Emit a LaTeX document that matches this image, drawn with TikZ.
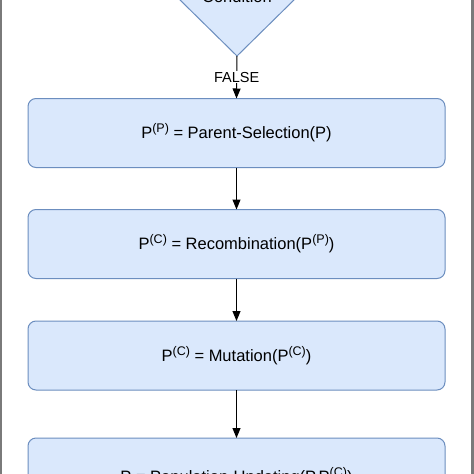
\documentclass[tikz,border=0pt]{standalone}
\usepackage{fontspec}
\setmainfont{Liberation Sans}
\usetikzlibrary{shapes.geometric,arrows.meta}
\definecolor{boxfill}{HTML}{DAE8FC}
\definecolor{boxline}{HTML}{6C8EBF}
\definecolor{frame}{HTML}{7A7A7A}
\newcommand{\sups}[1]{\raisebox{6pt}{\fontsize{12.5}{12.5}\selectfont #1}}
\tikzset{
  procbox/.style={draw=boxline, fill=boxfill, line width=1pt, rounded corners=8pt,
    minimum width=417pt, minimum height=69pt, inner sep=0pt, outer sep=0pt,
    font=\fontsize{16.5}{20}\selectfont},
  decision/.style={diamond, draw=boxline, fill=boxfill, line width=1pt,
    minimum width=120pt, minimum height=118pt, inner sep=0pt, outer sep=0pt,
    font=\fontsize{16.5}{20}\selectfont},
  flow/.style={draw=black, line width=1pt, -{Triangle[length=10pt,width=8pt]}},
  edgelabel/.style={fill=white, inner sep=1pt, font=\fontsize{14.5}{16}\selectfont}
}
\begin{document}
\begin{tikzpicture}[x=1pt,y=-1pt]
\useasboundingbox (0,0) rectangle (474,474);
\clip (0,0) rectangle (474,474);
\fill[white] (0,0) rectangle (474,474);
\node[decision] (cond) at (237,-3) {Condition};
\node[procbox] (b1) at (236.5,133) {P\sups{(P)} = Parent-Selection(P)};
\node[procbox] (b2) at (236.5,244) {P\sups{(C)} = Recombination(P\sups{(P)})};
\node[procbox] (b3) at (236.5,355.5) {P\sups{(C)} = Mutation(P\sups{(C)})};
\node[procbox, minimum height=78pt] (b4) at (236.5,477) {P = Population-Updating(P,P\sups{(C)})};
\draw[flow] (cond.south) -- node[edgelabel] {FALSE} (b1.north);
\draw[flow] (b1.south) -- (b2.north);
\draw[flow] (b2.south) -- (b3.north);
\draw[flow] (b3.south) -- (b4.north);
\fill[frame] (0,0) rectangle (2,474);
\fill[frame] (471,0) rectangle (474,474);
\end{tikzpicture}
\end{document}
